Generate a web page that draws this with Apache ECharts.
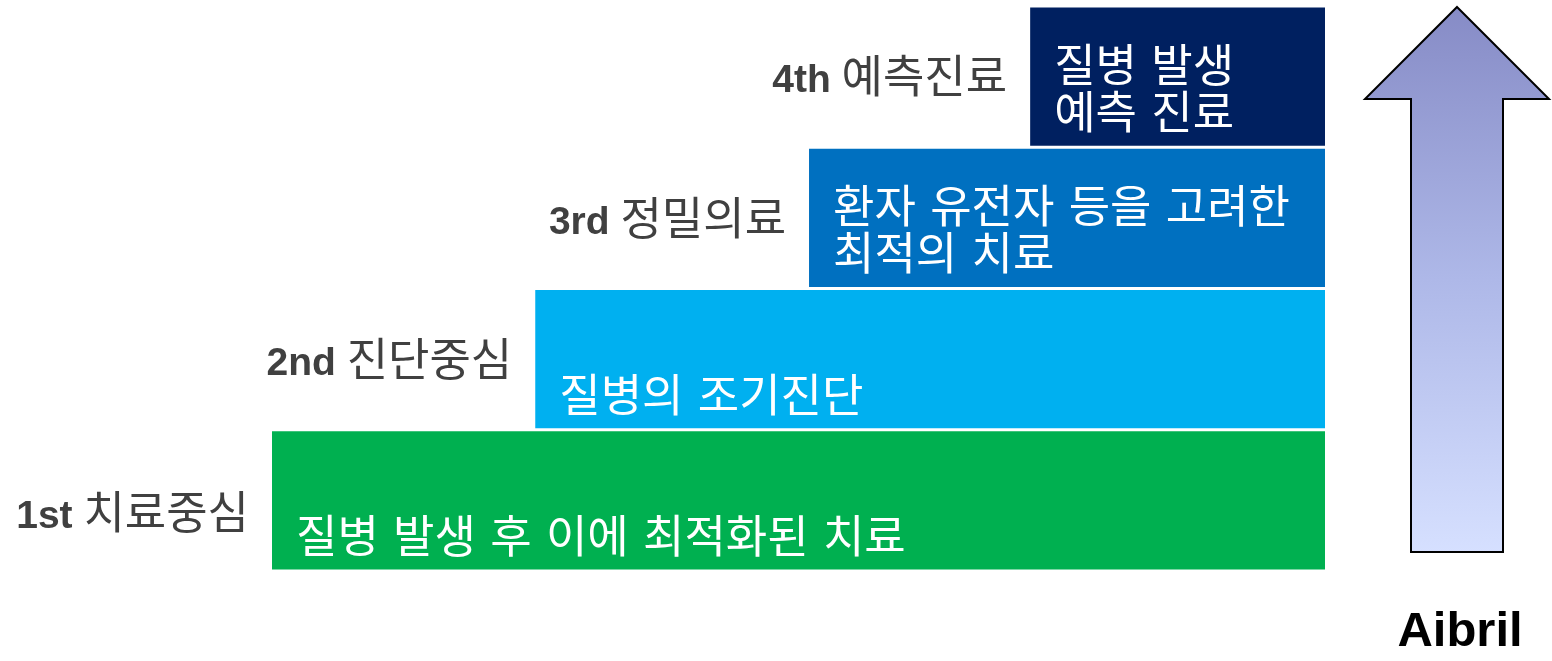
<!DOCTYPE html>
<html>
<head>
<meta charset="utf-8">
<script src="https://cdn.jsdelivr.net/npm/echarts@6/dist/echarts.min.js"></script>
<style>
html,body{margin:0;padding:0;background:#fff;}
#chart{width:1552px;height:661px;}
</style>
</head>
<body>
<div id="chart"></div>
<script>
// ---- data ----
const stages = ['1st', '2nd', '3rd', '4th'];
const stageNames = ['치료중심', '진단중심', '정밀의료', '예측진료'];
const descriptions = [
  '질병 발생 후 이에 최적화된 치료',
  '질병의 조기진단',
  '환자 유전자 등을 고려한\n최적의 치료',
  '질병 발생\n예측 진료'
];
const startValues = [0, 25, 51, 72];
const endValues = [100, 100, 100, 100];
const brandLabel = 'Aibril';

// ---- styles ----
const barColors = ['#00B050', '#00B0F0', '#0070C0', '#002060'];
const descOffsetY = [41, 41, 17, 17];
const stageOffsetY = [17, 5.5, 5, 5];
const KR = '"DejaVu Sans", "Noto Sans CJK KR", sans-serif';
const LAT = '"Liberation Sans", Arial, sans-serif';

const seriesData = stages.map((s, i) => [startValues[i], endValues[i], i]);

const chart = echarts.init(document.getElementById('chart'));
chart.setOption({
  animation: false,
  grid: { left: 272, right: 227, top: 6, bottom: 90 },
  xAxis: { type: 'value', min: 0, max: 100, show: false },
  yAxis: { type: 'category', data: stages, show: false },
  series: [{
    type: 'custom',
    data: seriesData,
    encode: { x: [0, 1], y: 2 },
    renderItem: function (params, api) {
      const i = params.dataIndex;
      const cat = api.value(2);
      const p0 = api.coord([api.value(0), cat]);
      const p1 = api.coord([api.value(1), cat]);
      const bandH = api.size([0, 1])[1];
      const h = bandH * 0.977;
      const x = p0[0];
      const w = p1[0] - p0[0];
      const cy = p0[1];
      return {
        type: 'group',
        children: [
          {
            type: 'rect',
            shape: { x: x, y: cy - h / 2, width: w, height: h },
            style: { fill: barColors[i] }
          },
          {
            type: 'text',
            style: {
              text: descriptions[i],
              x: x + 24,
              y: cy + descOffsetY[i],
              fill: '#ffffff',
              fontFamily: KR,
              fontSize: 45,
              lineHeight: 47,
              align: 'left', textAlign: 'left',
              verticalAlign: 'middle', textVerticalAlign: 'middle'
            }
          },
          {
            type: 'text',
            style: {
              text: '{b|' + stages[i] + ' }{k|' + stageNames[i] + '}',
              x: x - 23,
              y: cy + stageOffsetY[i],
              fill: '#404040',
              align: 'right', textAlign: 'right',
              verticalAlign: 'middle', textVerticalAlign: 'middle',
              rich: {
                b: { fontFamily: LAT, fontWeight: 'bold', fontSize: 39, fill: '#404040', color: '#404040' },
                k: { fontFamily: KR, fontSize: 45, fill: '#404040', color: '#404040' }
              }
            }
          }
        ]
      };
    }
  }],
  graphic: [
    {
      type: 'polygon',
      shape: {
        points: [[1457, 7], [1549, 99], [1503, 99], [1503, 552], [1411, 552], [1411, 99], [1365, 99]]
      },
      style: {
        fill: new echarts.graphic.LinearGradient(0, 0, 0, 1, [
          { offset: 0, color: '#868BC6' },
          { offset: 0.5, color: '#AEB8E8' },
          { offset: 1, color: '#D6E0FF' }
        ]),
        stroke: '#000000',
        lineWidth: 2
      }
    },
    {
      type: 'text',
      style: {
        text: brandLabel,
        x: 1460,
        y: 657,
        fill: '#000000',
        font: 'bold 49px "Liberation Sans", Arial, sans-serif',
        textAlign: 'center',
        textVerticalAlign: 'bottom'
      }
    }
  ]
});
</script>
</body>
</html>
